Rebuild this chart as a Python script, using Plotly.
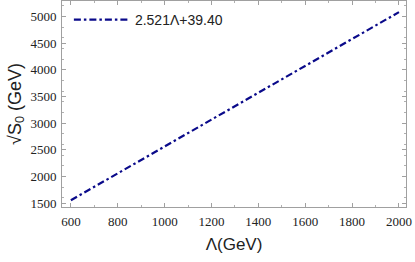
import plotly.graph_objects as go

lam = [600, 800, 1000, 1200, 1400, 1600, 1800, 2000]
slope = 2.521
icpt = 39.40
s0 = [slope * l + icpt for l in lam]
xticks = [600, 800, 1000, 1200, 1400, 1600, 1800, 2000]
yticks = [1500, 2000, 2500, 3000, 3500, 4000, 4500, 5000]

fig = go.Figure()
fig.add_trace(go.Scatter(x=lam, y=s0, mode="lines",
                         line=dict(color="#0a0a8a", width=2.2, dash="7px,3px,2.5px,3px"),
                         name="2.521Λ+39.40"))

axcommon = dict(showgrid=False, zeroline=False, showline=True, linecolor="#a0a0a0",
                linewidth=1, mirror="allticks", ticks="inside", ticklen=4,
                tickcolor="#a0a0a0", ticklabelstandoff=2,
                tickfont=dict(family="Liberation Serif", size=13, color="#222"),
                minor=dict(ticks="inside", ticklen=2, tickcolor="#b0b0b0", nticks=5))
fig.update_xaxes(range=[562, 2030], tickvals=xticks, **axcommon,
                 title=dict(text="Λ(GeV)", font=dict(family="Liberation Sans", size=17, color="#222"), standoff=10))
fig.update_yaxes(range=[1425, 5290], tickvals=yticks, **axcommon,
                 title=dict(text="√S<sub>0</sub> (GeV)", font=dict(family="Liberation Sans", size=18, color="#222"), standoff=4))
fig.update_layout(width=415, height=262, margin=dict(l=62, r=9, t=1, b=55),
                  plot_bgcolor="white", paper_bgcolor="white",
                  legend=dict(x=0.02, y=0.985, xanchor="left", yanchor="top",
                              bgcolor="rgba(0,0,0,0)", itemwidth=56,
                              font=dict(family="Liberation Sans", size=14, color="#222")),
                  showlegend=True)
fig.write_html("out.html", config={"displayModeBar": False},
               post_script="document.body.style.margin='0';document.body.style.overflow='hidden';")
